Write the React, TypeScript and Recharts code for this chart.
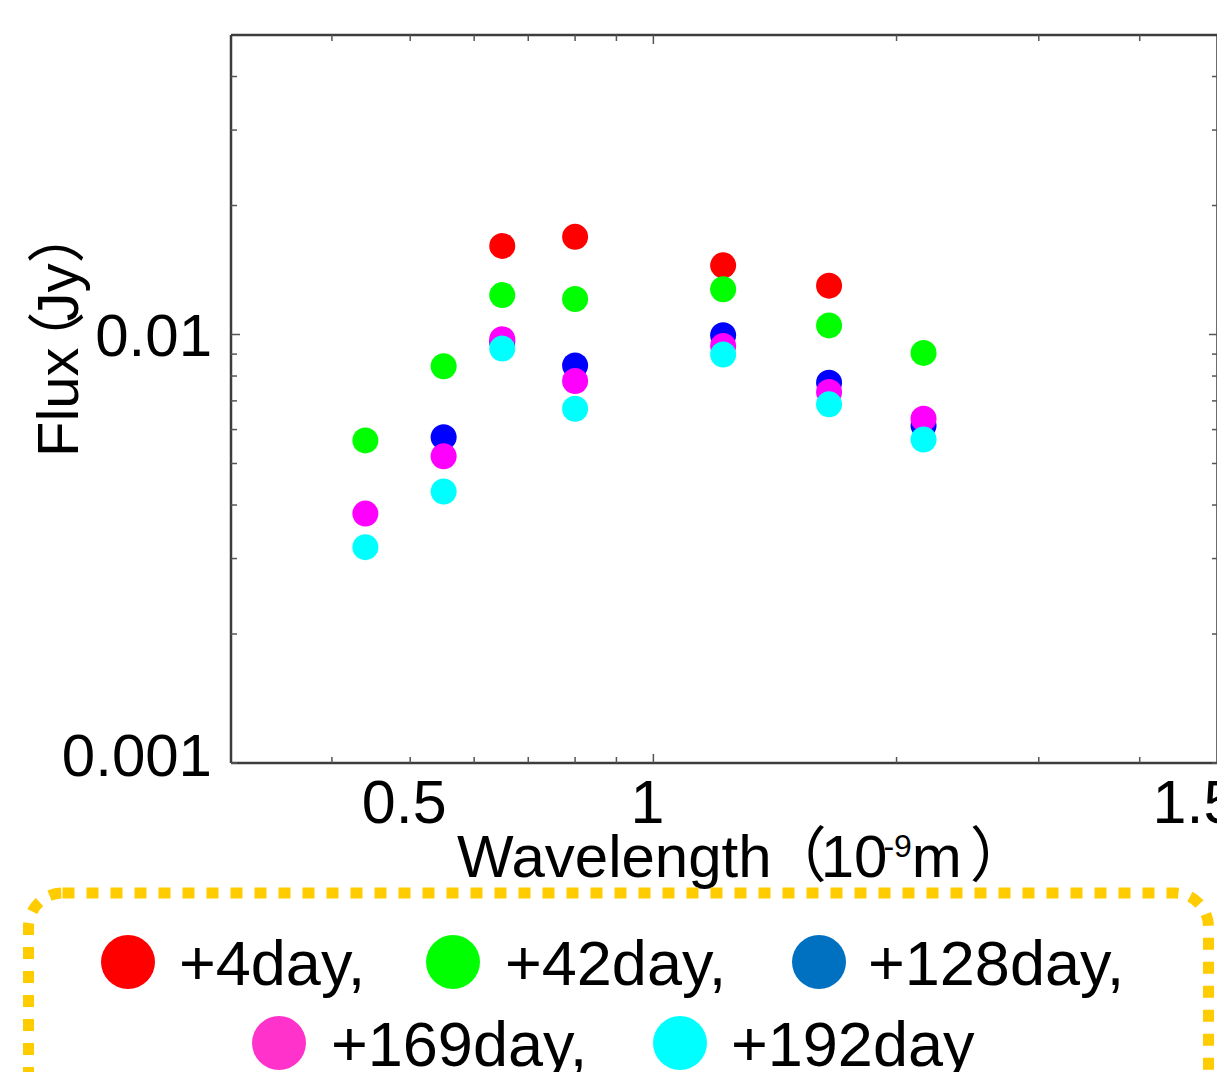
import { Label, ReferenceLine, Scatter, ScatterChart, XAxis, YAxis } from "recharts";

// wavelength of each band (x), 10^-9 m as labelled
const wavelengths = [0.44, 0.55, 0.65, 0.8, 1.22, 1.65, 2.16];

const seriesNames = ["+4day", "+42day", "+128day", "+169day", "+192day"];
const dotColors = ["#ff0000", "#00ff00", "#0000ff", "#ff00ff", "#00ffff"];
const legendColors = ["#ff0000", "#00ff00", "#0070c0", "#ff33cc", "#00ffff"];

// flux (Jy) per band, null = not observed
const flux4 = [null, null, 0.0161, 0.0169, 0.0145, 0.013, null];
const flux42 = [0.00566, 0.00843, 0.01236, 0.0121, 0.01275, 0.0105, 0.00906];
const flux128 = [null, 0.00576, 0.0096, 0.00847, 0.00996, 0.00772, 0.00613];
const flux169 = [0.00382, 0.0052, 0.00975, 0.00779, 0.0094, 0.00734, 0.00636];
const flux192 = [0.00319, 0.0043, 0.00927, 0.00671, 0.00898, 0.00687, 0.00569];

const xTicks = [0.4, 0.5, 0.6, 0.7, 0.8, 0.9, 1, 2, 3, 4, 5];
const xTickLabels: Record<string, string> = { "0.5": "0.5", "1": "1", "5": "1.5" };
const yTicks = [0.001, 0.002, 0.003, 0.004, 0.005, 0.006, 0.007, 0.008, 0.009, 0.01, 0.02, 0.03, 0.04];
const yTickLabels: Record<string, string> = { "0.001": "0.001", "0.01": "0.01" };

const allFlux = [flux4, flux42, flux128, flux169, flux192];

const FONT = "'Liberation Sans', Arial, Helvetica, sans-serif";
const CJK = "'Noto Sans CJK JP', 'Noto Sans CJK SC', sans-serif";
const AXIS = "#3c3c3c";
const TICK = "#555";

function toPoints(flux: (number | null)[]) {
  const pts: { x: number; y: number }[] = [];
  flux.forEach((f, i) => {
    if (f != null) pts.push({ x: wavelengths[i], y: f });
  });
  return pts;
}

const BottomTick = ({ x, y, payload }: any) => {
  const v = payload.value;
  const len = v === 1 ? 9 : 6;
  const label = xTickLabels[String(v)];
  return (
    <g>
      <line x1={x} x2={x} y1={y} y2={y - len} stroke={TICK} strokeWidth={1.5} />
      {label && (
        <text x={x + (v === 5 ? -23 : -6)} y={y + 60} textAnchor="middle" fontSize={61} fontFamily={FONT} fill="#000">
          {label}
        </text>
      )}
    </g>
  );
};

const TopTick = ({ x, y, payload }: any) => {
  const len = payload.value === 1 ? 9 : 6;
  return <line x1={x} x2={x} y1={y} y2={y + len} stroke={TICK} strokeWidth={1.5} />;
};

const LeftTick = ({ x, y, payload }: any) => {
  const v = payload.value;
  const len = v === 0.01 ? 9 : 6;
  const label = yTickLabels[String(v)];
  return (
    <g>
      <line x1={x} x2={x + len} y1={y} y2={y} stroke={TICK} strokeWidth={1.5} />
      {label && (
        <text x={x - 19} y={y + (v === 0.001 ? 13 : 21)} textAnchor="end" fontSize={60} fontFamily={FONT} fill="#000">
          {label}
        </text>
      )}
    </g>
  );
};

const RightTick = ({ x, y, payload }: any) => {
  const len = payload.value === 0.01 ? 9 : 6;
  return <line x1={x} x2={x - len} y1={y} y2={y} stroke={TICK} strokeWidth={1.5} />;
};

const XTitle = ({ viewBox }: any) => (
  <text x={viewBox.x + 226} y={viewBox.y + 114} fontSize={60} fontFamily={FONT} fill="#000">
    Wavelength
    <tspan fontFamily={CJK} dx={-5}>（</tspan>
    <tspan dx={-6}>10</tspan>
    <tspan fontSize={32} dx={-4} dy={-20}>-9</tspan>
    <tspan dy={20}>m</tspan>
    <tspan fontFamily={CJK} dx={8}>）</tspan>
  </text>
);

const YTitle = ({ viewBox }: any) => {
  const tx = viewBox.x + viewBox.width - 153;
  const ty = viewBox.y + 422;
  return (
    <text x={tx} y={ty} transform={`rotate(-90, ${tx}, ${ty})`} fontSize={58} fontFamily={FONT} fill="#000">
      Flux
      <tspan fontFamily={CJK} dx={-22}>（</tspan>
      <tspan dx={-10}>Jy</tspan>
      <tspan fontFamily={CJK}>）</tspan>
    </text>
  );
};

const legendRows = [
  [
    { i: 0, cx: 128, cy: 962, tx: 179 },
    { i: 1, cx: 453, cy: 962, tx: 505 },
    { i: 2, cx: 819, cy: 962, tx: 868 },
  ],
  [
    { i: 3, cx: 279, cy: 1043, tx: 331 },
    { i: 4, cx: 680, cy: 1043, tx: 731 },
  ],
];

const logX = { type: "number" as const, scale: "log" as const, domain: [0.3, 5], allowDataOverflow: true, ticks: xTicks, interval: 0 as const };
const logY = { type: "number" as const, scale: "log" as const, domain: [0.001, 0.05], allowDataOverflow: true, ticks: yTicks, interval: 0 as const };

export default function App() {
  return (
    <div style={{ position: "relative", width: 1225, height: 1080, margin: -8, overflow: "hidden", background: "#fff" }}>
      <div style={{ position: "absolute", left: 0, top: 0 }}>
        <ScatterChart width={1225} height={900} margin={{ top: 34, right: 6, bottom: 136, left: 230 }}>
          <XAxis
            dataKey="x"
            {...logX}
            height={1}
            tickSize={0}
            tickMargin={0}
            tick={<BottomTick />}
            axisLine={{ stroke: AXIS, strokeWidth: 2.5 }}
          >
            <Label content={<XTitle />} />
          </XAxis>
          <XAxis
            xAxisId="top"
            orientation="top"
            dataKey="x"
            {...logX}
            height={1}
            tickSize={0}
            tickMargin={0}
            tick={<TopTick />}
            axisLine={{ stroke: AXIS, strokeWidth: 2.5 }}
          />
          <YAxis
            dataKey="y"
            {...logY}
            width={1}
            tickSize={0}
            tickMargin={0}
            tick={<LeftTick />}
            axisLine={{ stroke: AXIS, strokeWidth: 2.5 }}
          >
            <Label content={<YTitle />} />
          </YAxis>
          <YAxis
            yAxisId="right"
            orientation="right"
            dataKey="y"
            {...logY}
            width={1}
            tickSize={0}
            tickMargin={0}
            tick={<RightTick />}
            axisLine={{ stroke: AXIS, strokeWidth: 3 }}
          />
          {/* right frame edge */}
          <ReferenceLine x={5} stroke={AXIS} strokeWidth={3} ifOverflow="visible" />
          {allFlux.map((flux, s) => (
            <Scatter
              key={seriesNames[s]}
              name={seriesNames[s]}
              data={toPoints(flux)}
              isAnimationActive={false}
              shape={(p: any) => <circle cx={p.cx} cy={p.cy} r={13} fill={dotColors[s]} />}
            />
          ))}
        </ScatterChart>
      </div>

      <svg width={1225} height={1080} style={{ position: "absolute", left: 0, top: 0 }}>
        {/* title row, cut off by the crop */}
        <rect x={66} y={-20} width={62} height={22} fill="#00ff00" />
        <text x={176} y={2} fontSize={72} fontFamily={FONT} fill="#000">SED</text>

        <rect
          x={28.5}
          y={893}
          width={1180}
          height={320}
          rx={34}
          fill="none"
          stroke="#ffcc00"
          strokeWidth={11}
          strokeDasharray="12 12"
        />
        {legendRows.flat().map((it) => (
          <g key={it.i}>
            <circle cx={it.cx} cy={it.cy} r={27} fill={legendColors[it.i]} />
            <text x={it.tx} y={it.cy + 23} fontSize={63} fontFamily={FONT} fill="#000">
              {seriesNames[it.i] + (it.i < 4 ? "," : "")}
            </text>
          </g>
        ))}
      </svg>
    </div>
  );
}
